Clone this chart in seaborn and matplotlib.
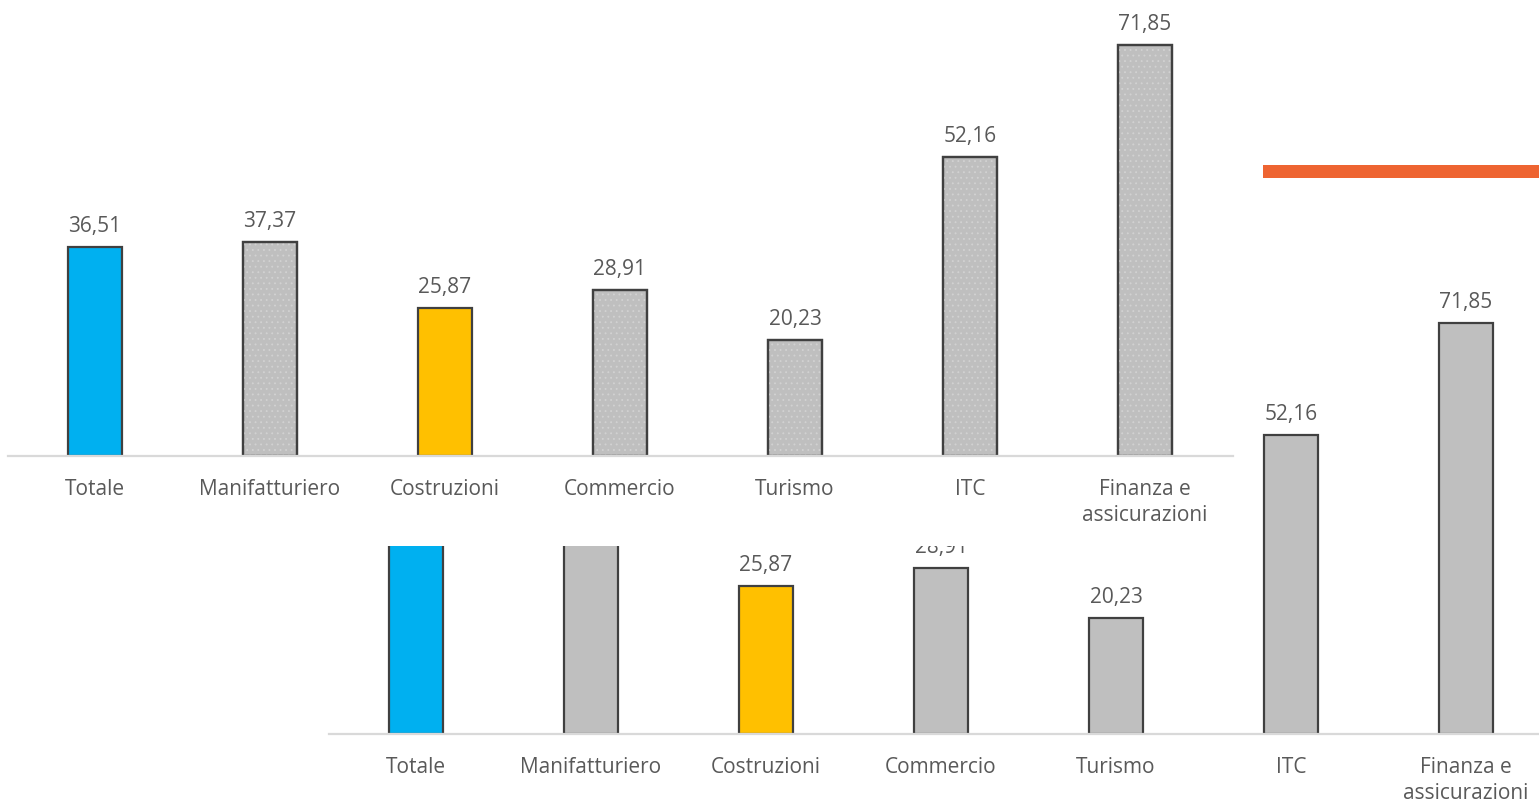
import matplotlib
matplotlib.use("Agg")
import matplotlib.pyplot as plt
import seaborn as sns
import pandas as pd
from matplotlib.patches import Rectangle

# dati
settori = ["Totale", "Manifatturiero", "Costruzioni", "Commercio", "Turismo",
           "ITC", "Finanza e\nassicurazioni"]
valori = [36.51, 37.37, 25.87, 28.91, 20.23, 52.16, 71.85]
colori = ["#00B0F0", "#BFBFBF", "#FFC000", "#BFBFBF", "#BFBFBF", "#BFBFBF", "#BFBFBF"]

sns.set_style("white")
plt.rcParams["font.family"] = ["Open Sans", "DejaVu Sans"]
plt.rcParams["hatch.linewidth"] = 0.6

W, H = 1539, 804
fig = plt.figure(figsize=(W / 100, H / 100), dpi=100)
fig.patch.set_facecolor("white")

TESTO = "#595959"
BORDO = "#404040"


def assi_px(left, baseline, width, height, z):
    ax = fig.add_axes([left / W, (H - baseline) / H, width / W, height / H])
    ax.set_zorder(z)
    ax.set_facecolor("none")
    return ax


def disegna(ax, texture):
    df = pd.DataFrame({"settore": settori, "valore": valori})
    sns.barplot(data=df, x="settore", y="valore", hue="settore", palette=colori,
                legend=False, width=0.31, saturation=1, edgecolor=BORDO,
                linewidth=1.6, ax=ax)
    # texture puntinata sulle barre grigie (bordo ridisegnato sopra)
    if texture:
        for p, c in zip(list(ax.patches), colori):
            if c == "#BFBFBF":
                z = p.get_zorder()
                ax.add_patch(Rectangle(p.get_xy(), p.get_width(), p.get_height(),
                                       fill=False, hatch="...", edgecolor="#D2D2D2",
                                       linewidth=0, zorder=z + 0.1))
                ax.add_patch(Rectangle(p.get_xy(), p.get_width(), p.get_height(),
                                       fill=False, edgecolor=BORDO,
                                       linewidth=1.6, zorder=z + 0.2))
    for cont in ax.containers:
        ax.bar_label(cont, labels=[f"{v:.2f}".replace(".", ",") for v in cont.datavalues],
                     padding=8, fontsize=15, color=TESTO)
    ax.set_xlim(-0.5, 6.5)
    ax.set_ylim(0, 457 / 5.725)
    ax.set_xlabel("")
    ax.set_ylabel("")
    ax.set_yticks([])
    for s in ["top", "left", "right"]:
        ax.spines[s].set_visible(False)
    ax.spines["bottom"].set_color("#D9D9D9")
    ax.spines["bottom"].set_linewidth(1.6)
    ax.tick_params(axis="x", length=0, pad=16, labelsize=15, labelcolor=TESTO)
    for t in ax.get_xticklabels():
        t.set_linespacing(1.32)


# grafico sotto (spostato)
ax2 = assi_px(328.5, 735, 1225, 457, 0)
disegna(ax2, texture=False)

# fondo bianco del grafico sopra
fig.add_artist(Rectangle((0, 1 - 547 / H), 1250 / W, 547 / H, transform=fig.transFigure,
                         facecolor="white", edgecolor="none", zorder=1))

# grafico sopra
ax1 = assi_px(7.5, 457, 1225, 457, 2)
disegna(ax1, texture=True)

# linea arancione
fig.add_artist(Rectangle((1263 / W, 1 - 179 / H), (W - 1263) / W, 13 / H,
                         transform=fig.transFigure, facecolor="#EE6431",
                         edgecolor="none", zorder=3))

fig.savefig("out.png", dpi=100, facecolor="white")
